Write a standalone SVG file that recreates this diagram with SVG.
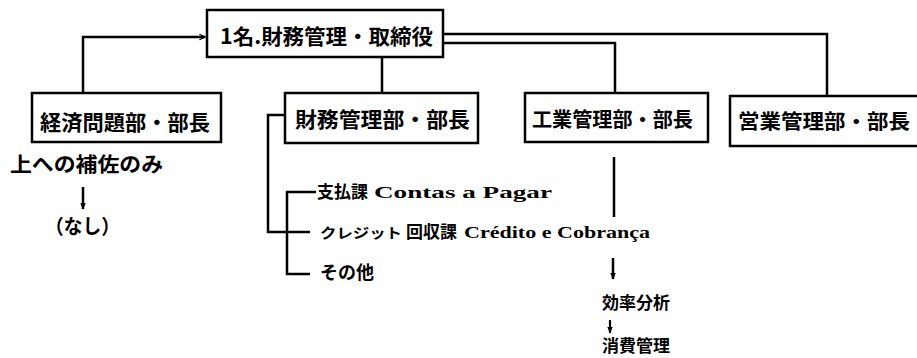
<svg xmlns="http://www.w3.org/2000/svg" width="917" height="358" viewBox="0 0 917 358">
<style>
.box{fill:#fff;stroke:#000;stroke-width:2.5}
.ln{fill:none;stroke:#000;stroke-width:2.5}
.t{font-family:"Noto Sans CJK JP","Noto Sans CJK SC",sans-serif;font-weight:bold;fill:#000}
.s{font-family:"Noto Sans CJK JP","Noto Sans CJK SC",sans-serif;font-weight:bold;fill:#000}
.l{font-family:"Liberation Serif",serif;font-weight:bold;fill:#000}
</style>
<defs>
<marker id="ah" viewBox="0 0 10 10" refX="9" refY="5" markerWidth="7" markerHeight="7" orient="auto" markerUnits="userSpaceOnUse">
<path d="M1,1 L9,5 L1,9" fill="none" stroke="#000" stroke-width="1.6"/>
</marker>
<marker id="dn" viewBox="0 0 10 10" refX="9" refY="5" markerWidth="7" markerHeight="7" orient="auto" markerUnits="userSpaceOnUse">
<path d="M0,1 L10,5 L0,9 Z" fill="#000"/>
</marker>
</defs>
<rect width="917" height="358" fill="#fff"/>
<g id="connectors">
<polyline class="ln" points="83,92 83,37 205,37" marker-end="url(#ah)"/>
<line class="ln" x1="382" y1="57" x2="382" y2="93"/>
<polyline class="ln" points="443,34 827,34 827,95"/>
<polyline class="ln" points="443,43 615,43 615,93"/>
<polyline class="ln" points="285,115 268,115 268,232 310,232"/>
<polyline class="ln" points="316,192 287,192 287,274 310,274"/>
<line class="ln" x1="614" y1="157" x2="614" y2="217"/>
<line x1="83" y1="187" x2="83" y2="209" stroke="#000" stroke-width="2.5" marker-end="url(#dn)"/>
<line x1="613" y1="258" x2="613" y2="279" stroke="#000" stroke-width="2.5" marker-end="url(#dn)"/>
<line x1="610" y1="320" x2="610" y2="333" stroke="#000" stroke-width="2.2" marker-end="url(#dn)"/>
</g>
<g id="top">
<rect class="box" x="207" y="10" width="236" height="47"/>
<text class="t" x="220" y="44" font-size="21" textLength="213" lengthAdjust="spacingAndGlyphs">1名.財務管理・取締役</text>
</g>
<g id="keizai">
<rect class="box" x="32" y="93" width="189" height="49"/>
<text class="t" x="40" y="130" font-size="21" textLength="170" lengthAdjust="spacingAndGlyphs">経済問題部・部長</text>
</g>
<g id="zaimu">
<rect class="box" x="285" y="93" width="193" height="50"/>
<text class="t" x="295" y="127" font-size="21" textLength="175" lengthAdjust="spacingAndGlyphs">財務管理部・部長</text>
</g>
<g id="kogyo">
<rect class="box" x="525" y="93" width="183" height="49"/>
<text class="t" x="532" y="127" font-size="20" textLength="161" lengthAdjust="spacingAndGlyphs">工業管理部・部長</text>
</g>
<g id="eigyo">
<rect class="box" x="730" y="96" width="200" height="50"/>
<text class="t" x="738" y="129" font-size="20" textLength="172" lengthAdjust="spacingAndGlyphs">営業管理部・部長</text>
</g>
<g id="hosa">
<text class="t" x="10" y="172" font-size="20" textLength="153" lengthAdjust="spacingAndGlyphs">上への補佐のみ</text>
<text class="t" x="45" y="234" font-size="20" textLength="75" lengthAdjust="spacingAndGlyphs">（なし）</text>
</g>
<g id="shiharai">
<text class="s" x="317" y="198" font-size="17">支払課</text>
<text class="l" x="374" y="198" font-size="17" textLength="178" lengthAdjust="spacingAndGlyphs">Contas a Pagar</text>
</g>
<g id="credito">
<text class="s" x="320" y="238" font-size="14" textLength="82" lengthAdjust="spacingAndGlyphs">クレジット</text>
<text class="s" x="406" y="238" font-size="17">回収課</text>
<text class="l" x="464" y="238" font-size="17" textLength="186" lengthAdjust="spacingAndGlyphs">Crédito e Cobrança</text>
</g>
<g id="sonota">
<text class="s" x="320" y="279" font-size="18">その他</text>
</g>
<g id="koritsu">
<text class="s" x="602" y="309" font-size="17">効率分析</text>
<text class="s" x="602" y="352" font-size="17">消費管理</text>
</g>
</svg>
